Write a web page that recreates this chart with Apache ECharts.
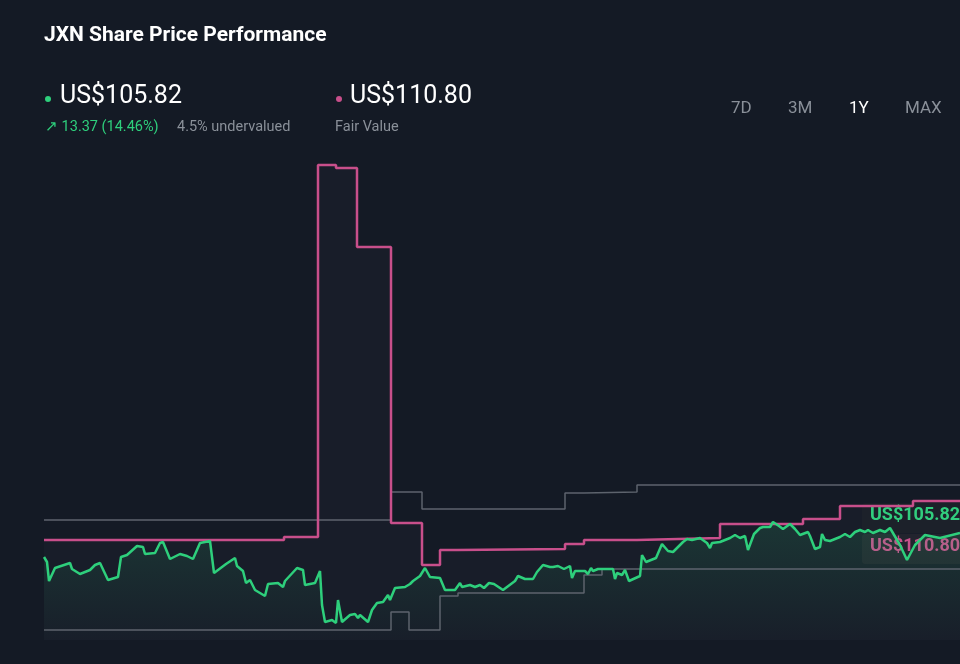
<!DOCTYPE html>
<html><head><meta charset="utf-8">
<script src="https://cdn.jsdelivr.net/npm/echarts@6/dist/echarts.min.js"></script>
<style>html,body{margin:0;background:#141a25}#c{width:960px;height:664px}</style>
</head><body><div id="c"></div>
<script>
// x: time step (0..916 over the year), y: price level (arbitrary units, 0..560)
const priceData = [[0,83],[3,78],[5,59],[11,72],[26,77],[28,71],[36,66],[46,70],[51,75],[56,77],[64,60],[74,63],[77,83],[83,85],[93,94],[99,93],[101,86],[111,87],[116,97],[119,98],[126,81],[136,86],[143,84],[149,81],[156,97],[166,99],[170,67],[182,76],[191,82],[193,74],[199,69],[200,70],[202,57],[206,60],[211,50],[221,44],[224,56],[234,57],[239,53],[241,59],[253,72],[259,70],[261,55],[271,57],[276,69],[278,35],[281,18],[288,20],[292,17],[294,40],[296,40],[298,18],[306,25],[311,26],[314,22],[316,25],[324,18],[328,30],[333,37],[339,38],[344,45],[346,40],[351,52],[361,53],[366,56],[369,59],[376,64],[381,72],[386,63],[396,62],[401,50],[411,50],[416,57],[418,53],[426,55],[431,53],[436,55],[440,52],[445,57],[450,56],[459,50],[471,59],[474,64],[481,61],[489,61],[493,68],[499,75],[506,73],[509,73],[514,74],[520,71],[526,74],[528,62],[531,69],[541,69],[544,66],[547,72],[549,69],[554,71],[562,71],[569,71],[571,61],[573,67],[578,65],[581,70],[585,59],[596,64],[598,85],[602,78],[612,82],[618,96],[624,89],[629,88],[634,93],[636,91],[639,98],[643,101],[648,100],[656,102],[663,97],[666,92],[668,97],[676,98],[686,102],[691,105],[696,102],[701,104],[704,90],[710,106],[716,112],[719,113],[726,113],[729,118],[735,114],[739,111],[746,116],[751,111],[756,105],[764,108],[766,104],[771,91],[776,93],[778,106],[781,100],[786,99],[791,101],[796,103],[801,106],[806,103],[811,108],[816,110],[821,108],[824,110],[829,107],[836,110],[841,108],[846,112],[856,95],[863,80],[871,95],[881,105],[896,102],[916,107]];
const fairValueData = [[0,100],[240,100],[240,103],[274,103],[274,475],[292,475],[292,472],[313,472],[313,393],[347,393],[347,117],[378,117],[378,75],[396,75],[396,90],[413,90],[413,91],[521,91],[521,96],[540,96],[540,100],[593,100],[593,102],[676,102],[676,116],[759,116],[759,121],[796,121],[796,134],[869,134],[869,139],[916,139]];
const upperBand = [[0,120],[347,120],[347,148],[378,148],[378,131],[521,131],[521,147],[540,147],[540,148],[593,148],[593,155],[916,155]];
const lowerBand = [[0,10],[347,10],[347,28],[365,28],[365,10],[396,10],[396,44],[414,44],[414,47],[540,47],[540,65],[558,65],[558,71],[916,71]];
const lastPrice = 'US$105.82', fairValue = 'US$110.80';

const ch = echarts.init(document.getElementById('c'));
const F = 'Roboto, "Noto Sans", sans-serif';
ch.setOption({
  backgroundColor:'#141a25',
  animation:false,
  grid:{left:44,top:80,width:916,height:560},
  xAxis:{type:'value',min:0,max:916,show:false},
  yAxis:{type:'value',min:0,max:560,show:false},
  series:[
    {type:'line',data:upperBand,symbol:'none',lineStyle:{color:'#5d636d',width:1.5}},
    {type:'line',data:lowerBand,symbol:'none',lineStyle:{color:'#5d636d',width:1.5}},
    {type:'line',data:fairValueData,symbol:'none',lineStyle:{color:'#c84f8b',width:2.5},
      areaStyle:{color:'rgba(200,180,220,0.035)',origin:'start'}},
    {type:'line',data:priceData,symbol:'none',lineStyle:{color:'#2ecf7c',width:2.5},
      areaStyle:{origin:'start',color:new echarts.graphic.LinearGradient(0,0,0,1,[{offset:0,color:'rgba(46,207,124,0.2)'},{offset:1,color:'rgba(46,207,124,0.01)'}])}}
  ],
  graphic:[
    {type:'text',left:44,top:25,style:{text:'JXN Share Price Performance',fill:'#ffffff',font:'bold 21px '+F}},
    {type:'circle',shape:{cx:48,cy:99,r:3},style:{fill:'#2ecf7c'}},
    {type:'text',left:60,top:84,style:{text:lastPrice,fill:'#ffffff',font:'25px '+F}},
    {type:'text',left:45,top:120,style:{text:'↗ 13.37 (14.46%)',fill:'#2ecf7c',font:'14.5px '+F}},
    {type:'text',left:177,top:120,style:{text:'4.5% undervalued',fill:'#8a9099',font:'14.5px '+F}},
    {type:'circle',shape:{cx:339,cy:99,r:3},style:{fill:'#c84f8b'}},
    {type:'text',left:350,top:84,style:{text:fairValue,fill:'#ffffff',font:'25px '+F}},
    {type:'text',left:335,top:120,style:{text:'Fair Value',fill:'#8a9099',font:'14.5px '+F}},
    {type:'text',left:731,top:100,style:{text:'7D',fill:'#8a9099',font:'17px '+F}},
    {type:'text',left:788,top:100,style:{text:'3M',fill:'#8a9099',font:'17px '+F}},
    {type:'text',left:849,top:100,style:{text:'1Y',fill:'#ffffff',font:'17px '+F}},
    {type:'text',left:905,top:100,style:{text:'MAX',fill:'#8a9099',font:'17px '+F}},
    {type:'rect',shape:{x:862,y:503,width:110,height:30,r:3},style:{fill:'rgba(25,30,38,0.92)'}},
    {type:'text',left:870,top:506,style:{text:lastPrice,fill:'#2ecf7c',font:'bold 18px '+F}},
    {type:'rect',shape:{x:862,y:534,width:110,height:30,r:3},style:{fill:'rgba(32,34,42,0.92)'}},
    {type:'text',left:870,top:537,style:{text:fairValue,fill:'#c84f8b',font:'bold 18px '+F}}
  ]
});
</script></body></html>
